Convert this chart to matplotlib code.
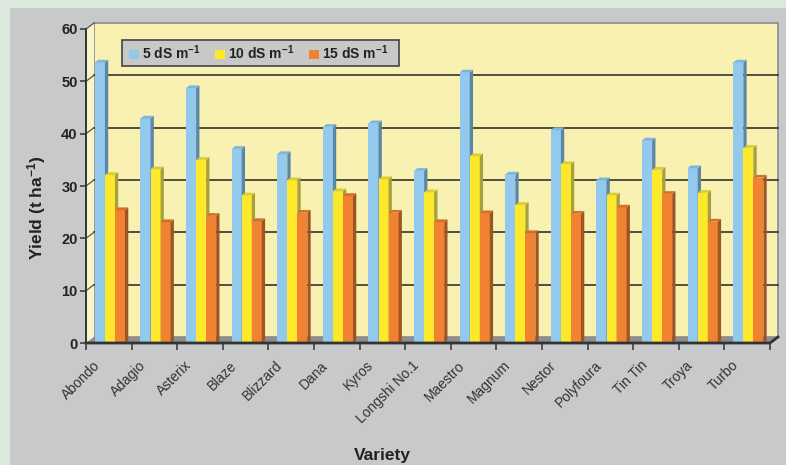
import matplotlib
matplotlib.use("Agg")
import matplotlib.pyplot as plt
from matplotlib.patches import Polygon, Rectangle, Patch
from matplotlib.lines import Line2D
from matplotlib.transforms import ScaledTranslation

# Grain yield of each variety under three irrigation-water salinity levels
varieties = ["Abondo", "Adagio", "Asterix", "Blaze", "Blizzard", "Dana", "Kyros",
             "Longshi No.1", "Maestro", "Magnum", "Nestor", "Polyfoura", "Tin Tin",
             "Troya", "Turbo"]
yield_5 = [53.6, 42.9, 48.7, 37.1, 36.1, 41.3, 42.0, 32.9, 51.7, 32.2, 40.7, 31.1, 38.7, 33.4, 53.6]
yield_10 = [32.1, 33.2, 35.0, 28.2, 31.1, 29.0, 31.3, 28.8, 35.7, 26.4, 34.2, 28.2, 33.1, 28.7, 37.3]
yield_15 = [25.4, 23.1, 24.3, 23.3, 24.9, 28.1, 24.9, 23.1, 24.8, 21.0, 24.7, 25.9, 28.5, 23.2, 31.6]
series_labels = ["5 dS m$^{-1}$", "10 dS m$^{-1}$", "15 dS m$^{-1}$"]
y_ticks = [0, 10, 20, 30, 40, 50, 60]

plt.rcParams["font.family"] = ["Liberation Sans", "DejaVu Sans"]
plt.rcParams["mathtext.fontset"] = "custom"
plt.rcParams["mathtext.rm"] = "Liberation Sans:bold"
plt.rcParams["mathtext.it"] = "Liberation Sans:bold"
plt.rcParams["mathtext.bf"] = "Liberation Sans:bold"
plt.rcParams["mathtext.default"] = "rm"

W, H = 786, 465
fig = plt.figure(figsize=(W / 100, H / 100), dpi=100)
fig.patch.set_facecolor("#dbe9dd")
fig.add_artist(Rectangle((10 / W, 0), 1, 1 - 8 / H, transform=fig.transFigure,
                         facecolor="#c8c9cb", edgecolor="none", zorder=-5))

ax_left, ax_right, ax_top, ax_bottom = 86, 770, 29, 343
ax = fig.add_axes([ax_left / W, 1 - ax_bottom / H,
                   (ax_right - ax_left) / W, (ax_bottom - ax_top) / H])
ax.set_xlim(0, len(varieties))
ax.set_ylim(0, 60)
ax.patch.set_visible(False)
for s in ax.spines.values():
    s.set_visible(False)

# depth of the chart box (back wall shift) in axes units
px_w = ax_right - ax_left
px_h = ax_bottom - ax_top
bx, by = 8 / px_w, 6 / px_h

wall = "#f8f1b1"
ax.add_patch(Rectangle((bx, by), 1, 1, transform=ax.transAxes, facecolor=wall,
                       edgecolor="#8c8c8c", lw=1.2, clip_on=False, zorder=0.1))
ax.add_patch(Polygon([(0, 0), (0, 1), (bx, 1 + by), (bx, by)], closed=True,
                     transform=ax.transAxes, facecolor="#faf5c8", edgecolor="none",
                     clip_on=False, zorder=0.2))
ax.add_patch(Polygon([(0, 0), (1, 0), (1 + bx, by), (bx, by)], closed=True,
                     transform=ax.transAxes, facecolor="#8e8e8e", edgecolor="none",
                     clip_on=False, zorder=0.2))

# gridlines on the back wall and across the side wall
for v in y_ticks:
    f = v / 60
    if 0 < v < 60:
        ax.add_line(Line2D([bx, 1 + bx], [by + f, by + f], transform=ax.transAxes,
                           color="#222222", lw=1.1, clip_on=False, zorder=0.3))
    if v > 0:
        ax.add_line(Line2D([0, bx], [f, by + f], transform=ax.transAxes,
                           color="#555555", lw=0.9, clip_on=False, zorder=0.3))

# 3-D style columns
bar_w = 0.22
first = 0.195
ddx = 3.3 / (px_w / len(varieties))
ddy = 2.7 * 60 / px_h
faces = [("#94c9ee", "#5b86a6", "#7db5dc"),
         ("#fde82c", "#a7a13d", "#d8ce36"),
         ("#f08232", "#9c5524", "#d56e2a")]
series = [yield_5, yield_10, yield_15]
for k, (vals, (front, side, top)) in enumerate(zip(series, faces)):
    z = 1 + k
    xs = [i + first + k * bar_w for i in range(len(varieties))]
    ax.bar(xs, vals, width=bar_w, align="edge", color=front, edgecolor="none",
           zorder=z, clip_on=False)
    for x0, v in zip(xs, vals):
        x1 = x0 + bar_w
        ax.add_patch(Polygon([(x1, 0), (x1, v), (x1 + ddx, v + ddy), (x1 + ddx, ddy)],
                             closed=True, facecolor=side, edgecolor="none",
                             zorder=z, clip_on=False))
        ax.add_patch(Polygon([(x0, v), (x1, v), (x1 + ddx, v + ddy), (x0 + ddx, v + ddy)],
                             closed=True, facecolor=top, edgecolor="none",
                             zorder=z, clip_on=False))

# axis lines
ax.add_line(Line2D([0, 0], [0, 1], transform=ax.transAxes, color="#333333", lw=1.4,
                   clip_on=False, zorder=5))
ax.add_line(Line2D([0, 1, 1 + bx], [0, 0, by], transform=ax.transAxes, color="#333333",
                   lw=2.0, clip_on=False, zorder=5))

ax.set_yticks(y_ticks)
ax.tick_params(axis="y", length=4, width=1.1, color="#333333", pad=2,
               labelsize=10.5, labelcolor="#222222")
for lab in ax.get_yticklabels():
    lab.set_fontweight("bold")

ax.set_xticks(range(len(varieties) + 1))
ax.set_xticklabels([])
ax.tick_params(axis="x", which="major", length=5, width=1.1, color="#333333")
ax.set_xticks([i + 0.5 for i in range(len(varieties))], minor=True)
ax.set_xticklabels(varieties, minor=True)
ax.tick_params(axis="x", which="minor", length=0, pad=11, labelsize=10,
               labelcolor="#333333")
for lab in ax.get_xticklabels(minor=True):
    lab.set_rotation(45)
    lab.set_ha("right")
    lab.set_rotation_mode("anchor")
    lab.set_transform(lab.get_transform() +
                      ScaledTranslation(-16 / 100, 0, fig.dpi_scale_trans))

fig.text(37 / W, 1 - 208 / H, "Yield (t ha$^{-1}$)", rotation=90, ha="center",
         va="center", fontsize=12.5, fontweight="bold", color="#222222")
fig.text(382 / W, 1 - 455 / H, "Variety", ha="center", va="center",
         fontsize=12.5, fontweight="bold", color="#222222")

# legend: gray box with a frameless legend inside
fig.add_artist(Rectangle((122 / W, 1 - 66 / H), 277 / W, 26 / H,
                         transform=fig.transFigure, facecolor="#c8c8c8",
                         edgecolor="#444444", lw=1.2, zorder=4))
handles = [Patch(facecolor=f[0], edgecolor="none") for f in faces]
leg = fig.legend(handles, series_labels, loc="center left",
                 bbox_to_anchor=(129 / W, 1 - 53 / H), bbox_transform=fig.transFigure,
                 ncol=3, frameon=False, borderaxespad=0, borderpad=0,
                 handlelength=0.7, handleheight=0.7, handletextpad=0.25,
                 columnspacing=1.05, prop={"size": 10, "weight": "bold"})
leg.set_zorder(5)
for t in leg.get_texts():
    t.set_color("#222222")

fig.savefig("out.png", dpi=100)
